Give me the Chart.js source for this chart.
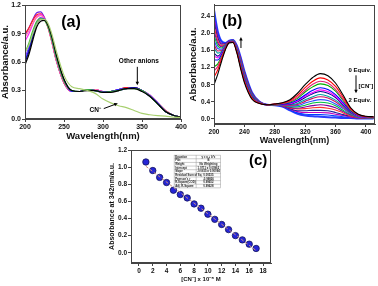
<!DOCTYPE html>
<html>
<head>
<meta charset="utf-8">
<script src="https://cdn.jsdelivr.net/npm/chart.js@4.4.0/dist/chart.umd.min.js"></script>
<style>
html,body{margin:0;padding:0;background:#fff;}
body{width:378px;height:286px;position:relative;overflow:hidden;}
.box{position:absolute;}
</style>
</head>
<body>
<div class="box" style="left:0;top:0"><canvas id="chartA" width="190" height="145"></canvas></div>
<div class="box" style="left:188px;top:0"><canvas id="chartB" width="190" height="145"></canvas></div>
<div class="box" style="left:90px;top:140px"><canvas id="chartC" width="200" height="146"></canvas></div>
<script>
// ---- panel (a): anion screening
const wlA = [200,205,210,215,220,225,230,235,240,250,260,270,280,290,300,310,320,330,340,350,360,370,380,390,400];
const anCN     = [0.70,0.78,0.90,1.00,1.05,1.05,1.00,0.88,0.72,0.46,0.34,0.32,0.30,0.27,0.21,0.17,0.14,0.12,0.09,0.06,0.045,0.035,0.03,0.02,0.015];
const anBlack  = [0.57,0.68,0.83,0.97,1.03,1.04,0.98,0.85,0.68,0.42,0.30,0.29,0.30,0.30,0.28,0.28,0.30,0.32,0.32,0.29,0.24,0.16,0.08,0.04,0.02];
const anNavy   = [0.60,0.71,0.86,0.99,1.05,1.05,0.98,0.84,0.67,0.41,0.30,0.29,0.31,0.30,0.28,0.29,0.30,0.32,0.33,0.30,0.24,0.16,0.08,0.04,0.02];
const anBlue   = [0.62,0.73,0.88,1.00,1.06,1.05,0.97,0.83,0.66,0.41,0.29,0.29,0.31,0.30,0.28,0.29,0.31,0.32,0.33,0.30,0.24,0.17,0.08,0.04,0.02];
const anViolet = [0.65,0.76,0.90,1.02,1.07,1.05,0.97,0.82,0.65,0.40,0.29,0.29,0.31,0.30,0.29,0.29,0.31,0.32,0.33,0.30,0.25,0.17,0.08,0.04,0.02];
const anGreen  = [0.70,0.80,0.93,1.03,1.06,1.04,0.96,0.82,0.65,0.40,0.30,0.29,0.31,0.30,0.28,0.29,0.30,0.32,0.32,0.30,0.24,0.16,0.08,0.04,0.02];
const anMag    = [0.82,0.90,1.00,1.08,1.10,1.06,0.96,0.80,0.63,0.39,0.29,0.29,0.31,0.31,0.29,0.29,0.31,0.32,0.33,0.30,0.25,0.17,0.08,0.04,0.02];
const anPink   = [0.86,0.93,1.01,1.07,1.09,1.05,0.95,0.80,0.63,0.39,0.29,0.29,0.31,0.31,0.29,0.29,0.31,0.32,0.33,0.30,0.25,0.17,0.09,0.04,0.02];
const anRed    = [0.90,0.96,1.04,1.10,1.11,1.06,0.95,0.79,0.62,0.38,0.29,0.29,0.31,0.31,0.29,0.29,0.31,0.33,0.33,0.30,0.25,0.17,0.09,0.04,0.02];
const anPurple = [0.88,0.96,1.05,1.12,1.13,1.07,0.96,0.80,0.62,0.38,0.29,0.29,0.31,0.31,0.29,0.29,0.31,0.33,0.33,0.30,0.25,0.17,0.09,0.04,0.02];
const anionSets = [anCN, anBlack, anGreen, anNavy, anBlue, anViolet, anPink, anMag, anRed, anPurple];
const anionColors = ['#a8d070','#000000','#40b840','#101080','#2020ff','#8040ff','#ff80a0','#ff20ff','#ff2020','#7020e0'];

// ---- panel (b): CN- titration 0 -> 2 equiv
const wlB = [200,205,210,215,220,225,230,235,240,250,260,270,280,290,300,310,320,330,340,350,360,370,380,390,400,410];
const cn00 = [0.80,1.05,1.35,1.62,1.78,1.79,1.55,1.18,0.85,0.46,0.36,0.33,0.35,0.38,0.45,0.60,0.80,0.97,1.06,1.01,0.84,0.56,0.26,0.11,0.06,0.05];
const cn01 = [0.98,1.15,1.40,1.64,1.79,1.80,1.57,1.21,0.88,0.48,0.36,0.33,0.35,0.37,0.43,0.55,0.73,0.88,0.96,0.91,0.76,0.51,0.24,0.10,0.055,0.05];
const cn02 = [1.12,1.23,1.44,1.65,1.79,1.80,1.58,1.23,0.90,0.49,0.37,0.33,0.345,0.36,0.405,0.51,0.67,0.81,0.88,0.84,0.69,0.46,0.22,0.09,0.05,0.04];
const cn03 = [1.22,1.29,1.46,1.66,1.79,1.80,1.59,1.24,0.91,0.50,0.37,0.33,0.34,0.36,0.39,0.48,0.63,0.75,0.82,0.78,0.65,0.43,0.20,0.09,0.05,0.04];
const cn04 = [1.38,1.38,1.51,1.67,1.80,1.81,1.61,1.27,0.94,0.51,0.37,0.33,0.34,0.35,0.37,0.44,0.56,0.67,0.73,0.69,0.57,0.38,0.18,0.08,0.045,0.04];
const cn05 = [1.47,1.43,1.53,1.68,1.80,1.81,1.61,1.28,0.95,0.52,0.38,0.33,0.34,0.35,0.355,0.42,0.53,0.62,0.68,0.64,0.53,0.35,0.17,0.07,0.04,0.035];
const cn06 = [1.54,1.47,1.55,1.69,1.80,1.82,1.62,1.29,0.96,0.53,0.38,0.33,0.34,0.34,0.345,0.40,0.50,0.59,0.64,0.60,0.50,0.33,0.16,0.07,0.04,0.035];
const cn07 = [1.66,1.54,1.58,1.70,1.80,1.82,1.63,1.31,0.98,0.54,0.38,0.33,0.335,0.34,0.33,0.36,0.45,0.52,0.57,0.53,0.44,0.30,0.14,0.06,0.035,0.03];
const cn08 = [1.75,1.59,1.60,1.71,1.81,1.82,1.64,1.33,1.00,0.55,0.38,0.33,0.335,0.33,0.315,0.34,0.41,0.48,0.52,0.49,0.40,0.27,0.13,0.06,0.035,0.03];
const cn09 = [1.85,1.65,1.63,1.72,1.81,1.83,1.65,1.34,1.01,0.56,0.38,0.33,0.33,0.325,0.30,0.31,0.37,0.42,0.45,0.43,0.35,0.24,0.12,0.05,0.03,0.025];
const cn10 = [1.96,1.71,1.66,1.73,1.81,1.83,1.66,1.36,1.03,0.57,0.39,0.33,0.33,0.32,0.285,0.28,0.32,0.37,0.39,0.37,0.31,0.20,0.10,0.04,0.027,0.024];
const cn11 = [2.06,1.77,1.69,1.74,1.82,1.83,1.67,1.37,1.04,0.58,0.39,0.33,0.33,0.315,0.27,0.25,0.28,0.31,0.33,0.31,0.26,0.17,0.09,0.04,0.024,0.02];
const cn12 = [2.17,1.83,1.72,1.74,1.82,1.84,1.68,1.39,1.06,0.58,0.39,0.33,0.325,0.31,0.255,0.23,0.24,0.26,0.27,0.25,0.21,0.14,0.07,0.03,0.02,0.018];
const cn13 = [2.29,1.90,1.75,1.76,1.82,1.84,1.69,1.41,1.08,0.60,0.39,0.33,0.325,0.30,0.24,0.19,0.19,0.20,0.20,0.19,0.15,0.10,0.06,0.025,0.017,0.015];
const cn14 = [2.38,1.95,1.77,1.76,1.82,1.84,1.70,1.42,1.09,0.60,0.40,0.33,0.32,0.30,0.225,0.17,0.15,0.15,0.15,0.14,0.11,0.08,0.04,0.02,0.015,0.013];
const cn15 = [2.46,2.00,1.80,1.77,1.83,1.85,1.71,1.44,1.11,0.61,0.40,0.33,0.32,0.29,0.21,0.14,0.11,0.10,0.10,0.09,0.07,0.05,0.03,0.015,0.012,0.011];
const cn16 = [2.55,2.05,1.82,1.78,1.83,1.85,1.72,1.45,1.12,0.62,0.40,0.33,0.32,0.29,0.20,0.12,0.08,0.06,0.05,0.04,0.03,0.02,0.02,0.01,0.01,0.01];
const titration = [cn00,cn01,cn02,cn03,cn04,cn05,cn06,cn07,cn08,cn09,cn10,cn11,cn12,cn13,cn14,cn15,cn16];
const titrColors = ['#000000','#ff0000','#e0207a','#00b000','#0000ff','#ff00ff','#000090','#00a0a0','#d01060',
                    '#3050ff','#00c040','#8000a0','#ff3030','#2020a0','#c000c0','#0040ff','#2a3cff'];

// ---- panel (c): absorbance at 342 nm vs [CN-]
const cnConc = [1,2,3,4,5,6,7,8,9,10,11,12,13,14,15,16,17];
const abs342 = [1.06,0.96,0.88,0.82,0.73,0.68,0.64,0.57,0.52,0.45,0.39,0.33,0.27,0.20,0.15,0.10,0.05];
const fitX = [1,17];
const fitY = [1.01,0.025];
const fitRows = [
  ['Equation','y = a + b*x'],
  ['Plot','B'],
  ['Weight','No Weighting'],
  ['Intercept','1.0711 \u00b1 0.00962'],
  ['Slope','-0.0615 \u00b1 0.00094'],
  ['Residual Sum of Sq.','0.00535'],
  ["Pearson's r",'-0.99826'],
  ['R-Square(COD)','0.99652'],
  ['Adj. R-Square','0.99628']
];

const FONT = "'Liberation Sans', Arial, sans-serif";
const AX = '#444';

function pts(xs, ys) {
  return xs.map(function (x, i) { return {x: x, y: ys[i]}; });
}

function drawArrow(ctx, x1, y1, x2, y2) {
  const ang = Math.atan2(y2 - y1, x2 - x1);
  const h = 4;
  ctx.beginPath();
  ctx.moveTo(x1, y1);
  ctx.lineTo(x2 - Math.cos(ang) * 2, y2 - Math.sin(ang) * 2);
  ctx.stroke();
  ctx.beginPath();
  ctx.moveTo(x2, y2);
  ctx.lineTo(x2 - h * Math.cos(ang - 0.45), y2 - h * Math.sin(ang - 0.45));
  ctx.lineTo(x2 - h * Math.cos(ang + 0.45), y2 - h * Math.sin(ang + 0.45));
  ctx.closePath();
  ctx.fill();
}

function notesPlugin(notes, arrows, extra) {
  return {
    id: 'notes',
    afterDatasetsDraw(chart) {
      const ctx = chart.ctx, xs = chart.scales.x, ys = chart.scales.y;
      const a = chart.chartArea;
      ctx.save();
      ctx.strokeStyle = AX;
      ctx.lineWidth = 1;
      ctx.strokeRect(Math.round(a.left) + 0.5, Math.round(a.top) + 0.5, Math.round(a.right - a.left) - 1, Math.round(a.bottom - a.top) - 1);
      ctx.fillStyle = '#000';
      ctx.strokeStyle = '#000';
      ctx.textAlign = 'center';
      ctx.textBaseline = 'middle';
      notes.forEach(function (n) {
        ctx.font = n.font;
        ctx.fillText(n.text, xs.getPixelForValue(n.x), ys.getPixelForValue(n.y));
      });
      arrows.forEach(function (r) {
        drawArrow(ctx, xs.getPixelForValue(r.x1), ys.getPixelForValue(r.y1), xs.getPixelForValue(r.x2), ys.getPixelForValue(r.y2));
      });
      if (extra) extra(chart, ctx);
      ctx.restore();
    }
  };
}

function axis(opts) {
  return {
    type: 'linear',
    min: opts.min, max: opts.max,
    border: {display: true, color: AX, width: 1},
    grid: {display: true, drawOnChartArea: false, color: AX, tickLength: 3},
    ticks: {
      stepSize: opts.step, includeBounds: false, autoSkip: false, maxRotation: 0,
      padding: 1, color: '#111',
      font: {family: FONT, size: opts.tickSize, weight: 'bold'},
      callback: opts.fmt
    },
    title: {
      display: true, text: opts.title, color: '#111',
      font: {family: FONT, size: opts.titleSize, weight: 'bold', lineHeight: 1},
      padding: opts.titlePad
    },
    afterFit: opts.fit
  };
}

const baseOpts = {
  responsive: false,
  animation: false,
  plugins: {legend: {display: false}, tooltip: {enabled: false}},
  elements: {point: {radius: 0}}
};

// panel (a)
new Chart(document.getElementById('chartA'), {
  type: 'line',
  data: {
    datasets: anionSets.map(function (s, i) {
      return {data: pts(wlA, s), borderColor: anionColors[i], borderWidth: 1.2, cubicInterpolationMode: 'monotone', fill: false};
    })
  },
  options: Object.assign({}, baseOpts, {
    layout: {padding: {left: 0, top: 4, right: 9, bottom: 0}},
    scales: {
      x: axis({min: 200, max: 400, step: 50, tickSize: 7, titleSize: 9.5, title: 'Wavelength(nm)',
        titlePad: {top: 0, bottom: 4}, fmt: function (v) { return v; },
        fit: function (s) { s.height = 26; }}),
      y: axis({min: 0, max: 1.2, step: 0.3, tickSize: 7, titleSize: 9.5, title: 'Absorbance/a.u.',
        titlePad: {top: 1, bottom: 0}, fmt: function (v) { return v.toFixed(1); },
        fit: function (s) { s.width = 25; }})
    }
  }),
  plugins: [notesPlugin(
    [
      {text: '(a)', x: 259, y: 1.02, font: 'bold 16px ' + FONT},
      {text: 'Other anions', x: 346, y: 0.61, font: 'bold 6.5px ' + FONT},
      {text: 'CN\u207b', x: 290, y: 0.095, font: 'bold 6.5px ' + FONT}
    ],
    [
      {x1: 344, y1: 0.55, x2: 344, y2: 0.355},
      {x1: 301, y1: 0.11, x2: 319, y2: 0.165}
    ]
  )]
});

// panel (b)
new Chart(document.getElementById('chartB'), {
  type: 'line',
  data: {
    datasets: titration.map(function (s, i) {
      return {data: pts(wlB, s), borderColor: titrColors[i], borderWidth: i === titration.length - 1 ? 2 : 1.1,
        cubicInterpolationMode: 'monotone', fill: false};
    })
  },
  options: Object.assign({}, baseOpts, {
    layout: {padding: {left: 0, top: 4, right: 3, bottom: 0}},
    scales: {
      x: axis({min: 200, max: 412, step: 40, tickSize: 6.5, titleSize: 9, title: 'Wavelength(nm)',
        titlePad: {top: 0, bottom: 0}, fmt: function (v) { return v; },
        fit: function (s) { s.height = 21; }}),
      y: axis({min: -0.12, max: 2.67, step: 0.4, tickSize: 6.5, titleSize: 9.5, title: 'Absorbance/a.u.',
        titlePad: {top: 1, bottom: 0}, fmt: function (v) { return v.toFixed(1); },
        fit: function (s) { s.width = 26; }})
    }
  }),
  plugins: [notesPlugin(
    [
      {text: '(b)', x: 224, y: 2.28, font: 'bold 16px ' + FONT},
      {text: '0 Equiv.', x: 392, y: 1.13, font: 'bold 6px ' + FONT},
      {text: '[CN\u207b]', x: 400, y: 0.76, font: 'bold 6px ' + FONT},
      {text: '2 Equiv.', x: 392, y: 0.44, font: 'bold 6px ' + FONT}
    ],
    [
      {x1: 235.5, y1: 1.66, x2: 235.5, y2: 1.92},
      {x1: 387, y1: 1.02, x2: 387, y2: 0.6}
    ]
  )]
});

// panel (c)
function drawFitTable(chart, ctx) {
  const xs = chart.scales.x, ys = chart.scales.y;
  const x0 = xs.getPixelForValue(5.1), x1 = xs.getPixelForValue(11.85);
  const y0 = ys.getPixelForValue(1.14), y1 = ys.getPixelForValue(0.757);
  const xm = xs.getPixelForValue(8.3);
  const rh = (y1 - y0) / fitRows.length;
  ctx.fillStyle = '#fff';
  ctx.fillRect(x0, y0, x1 - x0, y1 - y0);
  ctx.strokeStyle = '#999';
  ctx.lineWidth = 0.5;
  ctx.strokeRect(x0, y0, x1 - x0, y1 - y0);
  ctx.beginPath();
  ctx.moveTo(xm, y0); ctx.lineTo(xm, y1);
  for (let i = 1; i < fitRows.length; i++) {
    ctx.moveTo(x0, y0 + rh * i); ctx.lineTo(x1, y0 + rh * i);
  }
  ctx.stroke();
  ctx.fillStyle = '#222';
  ctx.font = 'bold 2.8px ' + FONT;
  fitRows.forEach(function (r, i) {
    const cy = y0 + rh * (i + 0.5);
    ctx.textAlign = 'left';
    ctx.fillText(r[0], x0 + 1, cy);
    ctx.textAlign = 'center';
    ctx.fillText(r[1], (xm + x1) / 2, cy);
  });
}

new Chart(document.getElementById('chartC'), {
  type: 'scatter',
  data: {
    datasets: [
      {data: pts(fitX, fitY), showLine: true, borderColor: '#c89080', borderWidth: 1, borderDash: [3, 2], pointRadius: 0},
      {data: pts(cnConc, abs342), showLine: false, pointRadius: 3.2, backgroundColor: '#2626d6', borderColor: '#14145a', borderWidth: 0.8}
    ]
  },
  options: Object.assign({}, baseOpts, {
    layout: {padding: {left: 0, top: 10, right: 19, bottom: 0}},
    scales: {
      x: axis({min: -1.16, max: 19.16, step: 2, tickSize: 6.5, titleSize: 6, title: '[CN\u207b] x 10\u207b\u2075 M',
        titlePad: {top: 0, bottom: 4}, fmt: function (v) { return v; },
        fit: function (s) { s.height = 23; }}),
      y: axis({min: -0.12, max: 1.2, step: 0.2, tickSize: 6.5, titleSize: 7, title: 'Absorbance at 342nm/a.u.',
        titlePad: {top: 19, bottom: 0}, fmt: function (v) { return v.toFixed(1); },
        fit: function (s) { s.width = 41; }})
    }
  }),
  plugins: [notesPlugin(
    [{text: '(c)', x: 17.3, y: 1.07, font: 'bold 15px ' + FONT}],
    [],
    drawFitTable
  )]
});
</script>
</body>
</html>
